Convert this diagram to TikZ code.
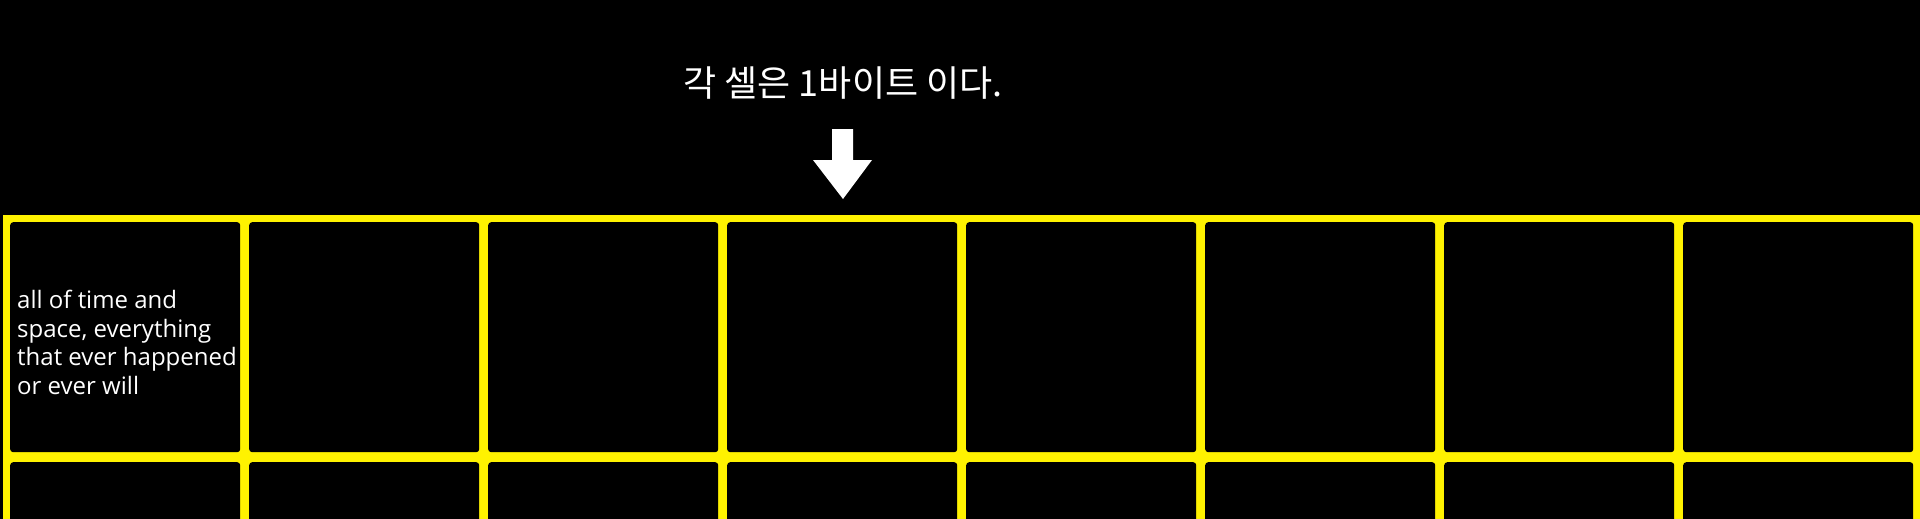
\documentclass[tikz,border=0pt]{standalone}
\usepackage{fontspec}
\setmainfont{Open Sans}
\newfontfamily\krfont{Noto Sans CJK KR}
\begin{document}
\begin{tikzpicture}[x=1pt,y=-1pt,
  cellbox/.style={fill=black,draw=none,rounded corners=3pt,minimum width=230pt,minimum height=230pt,inner sep=0pt,anchor=north west},
  celltext/.style={text=white,align=left,inner sep=0pt,font=\fontsize{24}{28.4}\selectfont},
  titletext/.style={text=white,inner sep=0pt,font=\krfont\fontsize{36}{40}\selectfont}]
\useasboundingbox (0,0) rectangle (1920,519);
\fill[black] (0,0) rectangle (1920,519);
\begin{scope}
\clip (0,0) rectangle (1920,519);
\fill[yellow] (2.5,215) rectangle (1920,519);
\foreach \i in {0,...,7}{
  \node[cellbox] (r1c\i) at ({10+239*\i},222) {};
  \node[cellbox] (r2c\i) at ({10+239*\i},462) {};
}
\end{scope}
\node[celltext,anchor=base west] (txt) at (17,394) {all of time and\\space, everything\\that ever happened\\or ever will};
\node[titletext,anchor=base] (title) at (843,96) {각 셀은 1바이트 이다.};
\fill[white] (832,129) -- (853,129) -- (853,160) -- (872,160) -- (843,199) -- (813,160) -- (832,160) -- cycle;
\end{tikzpicture}
\end{document}
